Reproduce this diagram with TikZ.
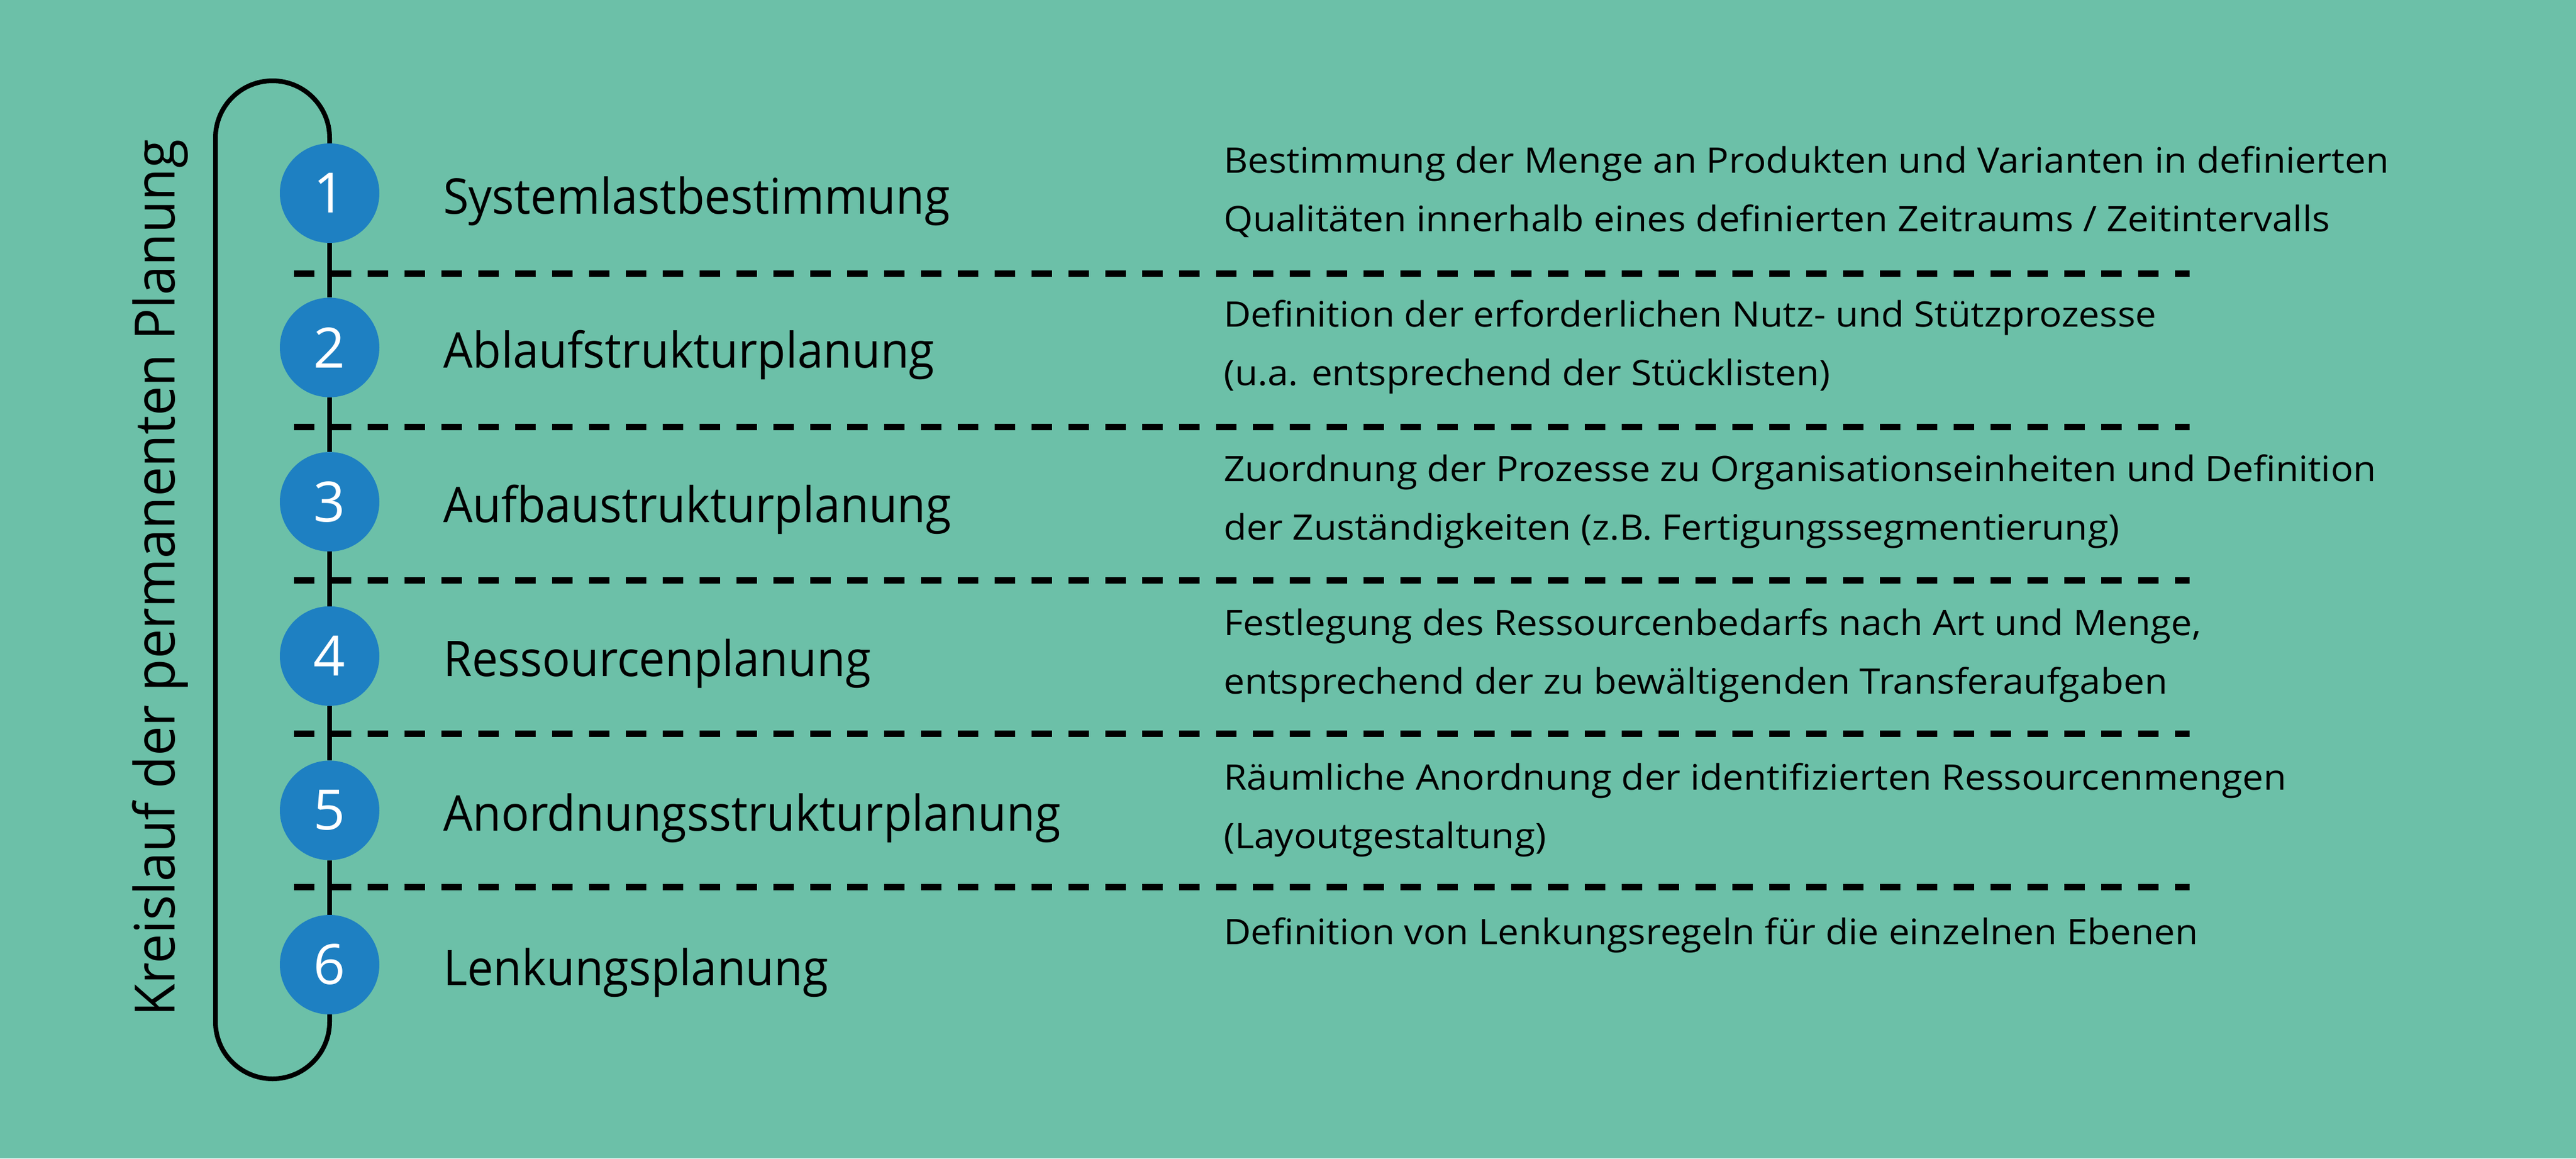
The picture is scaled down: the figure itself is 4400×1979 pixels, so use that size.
\documentclass[tikz,border=0pt]{standalone}
\usepackage{fontspec}
\setmainfont{Open Sans}
\newfontfamily\titlefont{Open Sans}[FakeStretch=0.945]
\newfontfamily\descfont{Open Sans}[FakeStretch=1.065]
\newfontfamily\numfont{Open Sans}
\newfontfamily\sidefont{Open Sans}[FakeStretch=0.95]
\definecolor{bggreen}{RGB}{108,192,168}
\definecolor{numblue}{RGB}{30,128,194}
\begin{document}
\begin{tikzpicture}[x=1pt,y=-1pt,
  loopline/.style={line width=8pt},
  sepline/.style={line width=11pt, dash pattern=on 35pt off 28pt},
  num/.style={circle, fill=numblue, inner sep=0pt, minimum size=170pt, text=white, font=\numfont\fontsize{95}{95}\selectfont},
  ttl/.style={anchor=base west, inner sep=0pt, font=\titlefont\fontsize{84}{100}\selectfont},
  desc/.style={anchor=base west, inner sep=0pt, font=\descfont\fontsize{60}{100}\selectfont},
  side/.style={anchor=base, inner sep=0pt, rotate=90, font=\sidefont\fontsize{95}{100}\selectfont}
]
\fill[bggreen] (0,0) rectangle (4400,1979);
\useasboundingbox (0,0) rectangle (4400,1979);

\foreach \y in {467,729,991,1253,1515}
  \draw[sepline] (502,\y) -- (3740,\y);

\node[num] (c1) at (563,330) {1};
\node[num] (c2) at (563,593.6) {2};
\node[num] (c3) at (563,857.2) {3};
\node[num] (c4) at (563,1120.8) {4};
\node[num] (c5) at (563,1384.4) {5};
\node[num] (c6) at (563,1648) {6};

\draw[loopline] (c1) -- (c2);
\draw[loopline] (c2) -- (c3);
\draw[loopline] (c3) -- (c4);
\draw[loopline] (c4) -- (c5);
\draw[loopline] (c5) -- (c6);
\draw[loopline, rounded corners=97.5pt] (c1.north) -- (563,138) -- (368,138) -- (368,1843) -- (563,1843) -- (c6.south);

\node[side] (side) at (298,987.5) {Kreislauf der permanenten Planung};

\node[ttl] (t1) at (757,365) {Systemlastbestimmung};
\node[ttl] (t2) at (757,628.6) {Ablaufstrukturplanung};
\node[ttl] (t3) at (757,892.2) {Aufbaustrukturplanung};
\node[ttl] (t4) at (757,1155.8) {Ressourcenplanung};
\node[ttl] (t5) at (757,1419.4) {Anordnungsstrukturplanung};
\node[ttl] (t6) at (757,1683) {Lenkungsplanung};

\node[desc] (d1a) at (2090,295) {Bestimmung der Menge an Produkten und Varianten in definierten};
\node[desc] (d1b) at (2090,395) {Qualitäten innerhalb eines definierten Zeitraums / Zeitintervalls};
\node[desc] (d2a) at (2090,558.6) {Definition der erforderlichen Nutz- und Stützprozesse};
\node[desc] (d2b) at (2090,658.6) {(u.a. entsprechend der Stücklisten)};
\node[desc] (d3a) at (2090,822.2) {Zuordnung der Prozesse zu Organisationseinheiten und Definition};
\node[desc] (d3b) at (2090,922.2) {der Zuständigkeiten (z.B. Fertigungssegmentierung)};
\node[desc] (d4a) at (2090,1085.8) {Festlegung des Ressourcenbedarfs nach Art und Menge,};
\node[desc] (d4b) at (2090,1185.8) {entsprechend der zu bewältigenden Transferaufgaben};
\node[desc] (d5a) at (2090,1349.4) {Räumliche Anordnung der identifizierten Ressourcenmengen};
\node[desc] (d5b) at (2090,1449.4) {(Layoutgestaltung)};
\node[desc] (d6a) at (2090,1613) {Definition von Lenkungsregeln für die einzelnen Ebenen};
\end{tikzpicture}
\end{document}
